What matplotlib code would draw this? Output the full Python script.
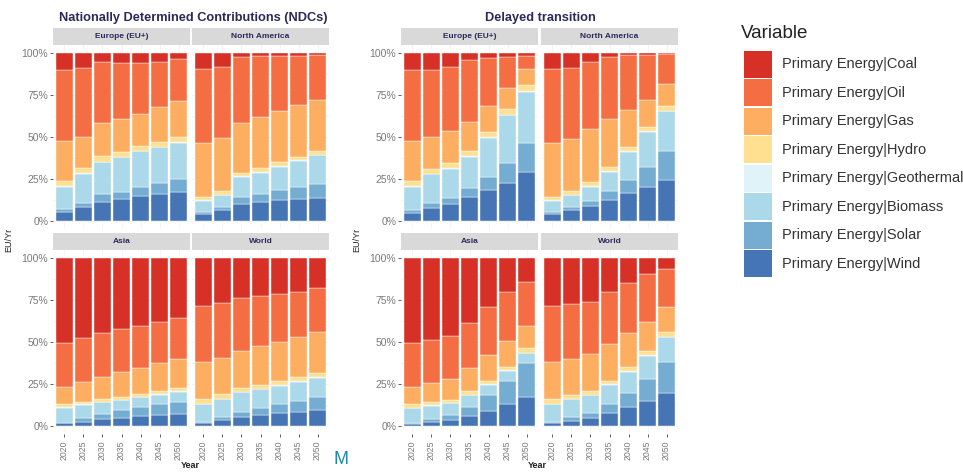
import matplotlib
matplotlib.use("Agg")
import matplotlib.pyplot as plt
import numpy as np

plt.rcParams['font.family'] = ['Liberation Sans', 'DejaVu Sans']

years = ["2020", "2025", "2030", "2035", "2040", "2045", "2050"]
variables = ["Primary Energy|Coal", "Primary Energy|Oil", "Primary Energy|Gas",
             "Primary Energy|Hydro", "Primary Energy|Geothermal",
             "Primary Energy|Biomass", "Primary Energy|Solar", "Primary Energy|Wind"]
colors = ["#d73027", "#f46d43", "#fdae61", "#fee090", "#e0f3f8",
          "#abd9e9", "#74add1", "#4575b4"]
regions = ["Europe (EU+)", "North America", "Asia", "World"]
scenarios = ["Nationally Determined Contributions (NDCs)", "Delayed transition"]

# shares (%) per variable (rows: Coal, Oil, Gas, Hydro, Geothermal, Biomass, Solar, Wind)
ndc_europe = [
    [10.0, 9.0, 5.2, 5.6, 5.6, 5.2, 3.6],
    [42.4, 40.8, 36.6, 33.8, 30.7, 27.1, 24.7],
    [23.7, 18.9, 19.6, 19.4, 19.1, 20.7, 21.9],
    [3.3, 3.1, 3.3, 3.1, 2.9, 2.7, 2.9],
    [0.3, 0.3, 0.3, 0.3, 0.3, 0.3, 0.3],
    [13.5, 17.1, 19.3, 20.5, 21.5, 21.7, 21.9],
    [1.6, 2.8, 4.3, 4.3, 5.4, 6.6, 7.8],
    [5.2, 8.0, 11.4, 13.0, 14.5, 15.7, 16.9],
]
ndc_north_america = [
    [9.6, 8.0, 2.0, 1.6, 1.6, 1.4, 1.0],
    [44.2, 42.4, 39.8, 36.6, 32.9, 29.5, 26.9],
    [31.9, 32.1, 29.9, 30.5, 30.6, 30.9, 30.3],
    [2.2, 1.9, 1.7, 2.3, 2.3, 2.0, 2.3],
    [0.3, 0.3, 0.3, 0.3, 0.3, 0.3, 0.3],
    [6.6, 6.9, 12.4, 12.8, 14.2, 16.0, 17.3],
    [1.0, 2.2, 3.7, 4.9, 5.9, 6.8, 8.6],
    [4.2, 6.2, 10.2, 11.0, 12.2, 13.1, 13.3],
]
ndc_asia = [
    [50.8, 47.8, 44.8, 42.4, 40.2, 38.2, 35.9],
    [25.9, 25.9, 25.9, 25.3, 25.1, 24.5, 24.3],
    [10.6, 12.0, 13.4, 15.2, 15.8, 16.8, 17.5],
    [1.6, 1.6, 1.7, 1.5, 1.7, 1.7, 1.7],
    [0.3, 0.3, 0.3, 0.3, 0.3, 0.3, 0.3],
    [9.0, 8.0, 6.7, 5.9, 5.7, 5.8, 6.0],
    [0.4, 2.0, 3.2, 4.6, 5.4, 6.3, 7.5],
    [1.4, 2.4, 4.0, 4.8, 5.8, 6.4, 6.8],
]
ndc_world = [
    [28.3, 26.7, 23.9, 22.3, 21.3, 19.9, 17.9],
    [33.5, 32.7, 31.5, 29.9, 28.5, 26.9, 25.9],
    [22.3, 21.9, 22.3, 23.5, 23.5, 24.3, 24.9],
    [2.7, 2.5, 2.1, 2.3, 2.5, 2.3, 2.3],
    [0.3, 0.3, 0.3, 0.3, 0.3, 0.3, 0.3],
    [10.7, 10.7, 11.5, 10.9, 11.2, 11.4, 11.8],
    [0.4, 1.8, 3.2, 4.6, 5.3, 6.5, 7.5],
    [1.8, 3.4, 5.2, 6.2, 7.4, 8.4, 9.4],
]
delayed_europe = [
    [10.0, 10.0, 8.0, 4.0, 2.6, 2.0, 1.6],
    [42.4, 39.8, 38.2, 36.8, 28.9, 18.9, 8.0],
    [23.9, 19.3, 19.5, 17.4, 15.3, 12.4, 9.3],
    [3.1, 2.9, 2.9, 3.3, 3.3, 3.3, 3.7],
    [0.3, 0.3, 0.3, 0.3, 0.3, 0.3, 0.3],
    [13.9, 17.3, 17.4, 18.5, 23.3, 28.8, 30.5],
    [1.6, 2.8, 3.7, 5.4, 8.0, 11.6, 17.7],
    [4.8, 7.6, 10.0, 14.3, 18.3, 22.7, 28.9],
]
delayed_north_america = [
    [9.6, 8.6, 5.4, 2.0, 1.2, 1.0, 0.4],
    [44.2, 42.4, 40.0, 37.2, 32.7, 26.9, 17.9],
    [31.9, 31.5, 31.7, 28.5, 21.9, 15.9, 13.2],
    [2.2, 1.9, 2.3, 2.7, 2.7, 2.7, 2.7],
    [0.3, 0.3, 0.3, 0.3, 0.3, 0.3, 0.3],
    [6.6, 6.9, 8.3, 11.4, 16.9, 21.3, 23.7],
    [1.0, 2.2, 3.2, 5.5, 8.0, 11.8, 17.5],
    [4.2, 6.2, 8.8, 12.4, 16.3, 20.1, 24.3],
]
delayed_asia = [
    [50.8, 48.8, 46.4, 38.8, 29.3, 20.3, 13.9],
    [25.9, 25.9, 25.7, 26.9, 28.5, 29.1, 26.3],
    [10.6, 11.4, 12.4, 13.4, 15.3, 15.3, 13.6],
    [2.0, 1.8, 1.9, 2.3, 2.3, 2.3, 2.7],
    [0.3, 0.3, 0.3, 0.3, 0.3, 0.3, 0.3],
    [8.6, 7.8, 6.9, 7.3, 6.0, 5.8, 5.6],
    [0.6, 1.6, 3.0, 5.2, 9.3, 14.2, 20.7],
    [1.2, 2.4, 3.4, 5.8, 9.0, 12.7, 16.9],
]
delayed_world = [
    [28.3, 27.3, 25.9, 20.3, 14.5, 9.6, 6.6],
    [33.5, 32.9, 31.3, 31.1, 30.3, 28.2, 22.3],
    [22.3, 21.5, 21.9, 21.7, 19.9, 17.4, 14.9],
    [2.7, 2.3, 2.3, 2.3, 2.7, 2.7, 3.1],
    [0.3, 0.3, 0.3, 0.3, 0.3, 0.3, 0.3],
    [10.7, 10.5, 10.5, 11.6, 12.6, 13.9, 14.6],
    [0.4, 2.2, 3.0, 4.9, 8.3, 13.0, 18.9],
    [1.8, 3.0, 4.8, 7.8, 11.4, 14.9, 19.3],
]

panels = [
    [ndc_europe, ndc_north_america, ndc_asia, ndc_world],
    [delayed_europe, delayed_north_america, delayed_asia, delayed_world],
]

W, H = 963, 472
fig = plt.figure(figsize=(W / 100, H / 100), dpi=100)
fig.patch.set_facecolor("white")


def rect(x0, y0, w, h):
    return [x0 / W, 1 - (y0 + h) / H, w / W, h / H]


title_col = "#2a2a5a"
tick_col = "#7a7a7a"
panel_x = [[53, 192], [401, 541]]
panel_w = 137
row_y = [45, 250]
panel_h = 184
strip_h = 17
title_x = [193, 540]
ylab_x = [9, 357]

x = np.arange(len(years))
for s, scen in enumerate(scenarios):
    fig.text(title_x[s] / W, 1 - 18 / H, scen, ha="center", va="center",
             fontsize=9.2, fontweight="bold", color=title_col)
    fig.text(ylab_x[s] / W, 1 - 240 / H, "EU/Yr", ha="center", va="center",
             rotation=90, fontsize=6.5, color="#222222")
    fig.text((title_x[s] - 3) / W, 1 - 466 / H, "Year", ha="center", va="center",
             fontsize=6.5, fontweight="bold", color="#222222")
    for r, reg in enumerate(regions):
        col = r % 2
        row = r // 2
        x0 = panel_x[s][col]
        y0 = row_y[row]
        sax = fig.add_axes(rect(x0, y0 - strip_h, panel_w, strip_h))
        sax.set_facecolor("#d9d9d9")
        sax.set_xticks([]); sax.set_yticks([])
        for sp in sax.spines.values():
            sp.set_visible(False)
        sax.text(0.5, 0.5, reg, ha="center", va="center", fontsize=6,
                 fontweight="bold", color=title_col, transform=sax.transAxes)

        ax = fig.add_axes(rect(x0, y0, panel_w, panel_h))
        data = np.array(panels[s][r], dtype=float)
        data = data / data.sum(axis=0, keepdims=True)
        bottom = np.zeros(len(years))
        for k in range(len(variables) - 1, -1, -1):
            ax.bar(x, data[k], 0.9, bottom=bottom, color=colors[k],
                   edgecolor="white", linewidth=0.3, zorder=3)
            bottom += data[k]
        ax.set_xlim(-0.6, len(years) - 0.4)
        ax.set_ylim(-0.05, 1.05)
        ax.set_yticks([0, 0.25, 0.5, 0.75, 1.0])
        ax.set_yticks([0.125, 0.375, 0.625, 0.875], minor=True)
        ax.grid(True, which="both", axis="y", color="#eeeeee", linewidth=0.5, zorder=0)
        ax.grid(True, which="major", axis="x", color="#f2f2f2", linewidth=0.5, zorder=0)
        ax.set_xticks(x)
        for sp in ax.spines.values():
            sp.set_visible(False)
        ax.tick_params(axis="both", which="minor", length=0)
        ax.tick_params(axis="y", which="major", length=2, width=0.6,
                       color="#444444", labelsize=7.5, labelcolor=tick_col, pad=1.5)
        ax.tick_params(axis="x", which="major", length=2, width=0.6,
                       color="#444444", labelsize=6.3, labelcolor=tick_col, pad=2.5)
        if col == 0:
            ax.set_yticklabels(["0%", "25%", "50%", "75%", "100%"])
        else:
            ax.tick_params(axis="y", length=0, labelleft=False)
        if row == 1:
            ax.set_xticklabels(years, rotation=90)
        else:
            ax.tick_params(axis="x", length=0, labelbottom=False)

# legend
fig.text(741 / W, 1 - 33 / H, "Variable", ha="left", va="center",
         fontsize=13.5, color="#222222")
key_y0 = 50
key_h = 28.5
for k, (v, c) in enumerate(zip(variables, colors)):
    y = key_y0 + k * key_h
    kax = fig.add_axes(rect(744, y + 0.5, 28, key_h - 1.5))
    kax.set_facecolor(c)
    kax.set_xticks([]); kax.set_yticks([])
    for sp in kax.spines.values():
        sp.set_visible(False)
    fig.text(782 / W, 1 - (y + key_h / 2) / H, v, ha="left", va="center",
             fontsize=10.5, color="#333333")

fig.text(341 / W, 1 - 460 / H, "M", ha="center", va="center",
         fontsize=13, color="#1b8aa5")

fig.savefig("out.png", dpi=100)
